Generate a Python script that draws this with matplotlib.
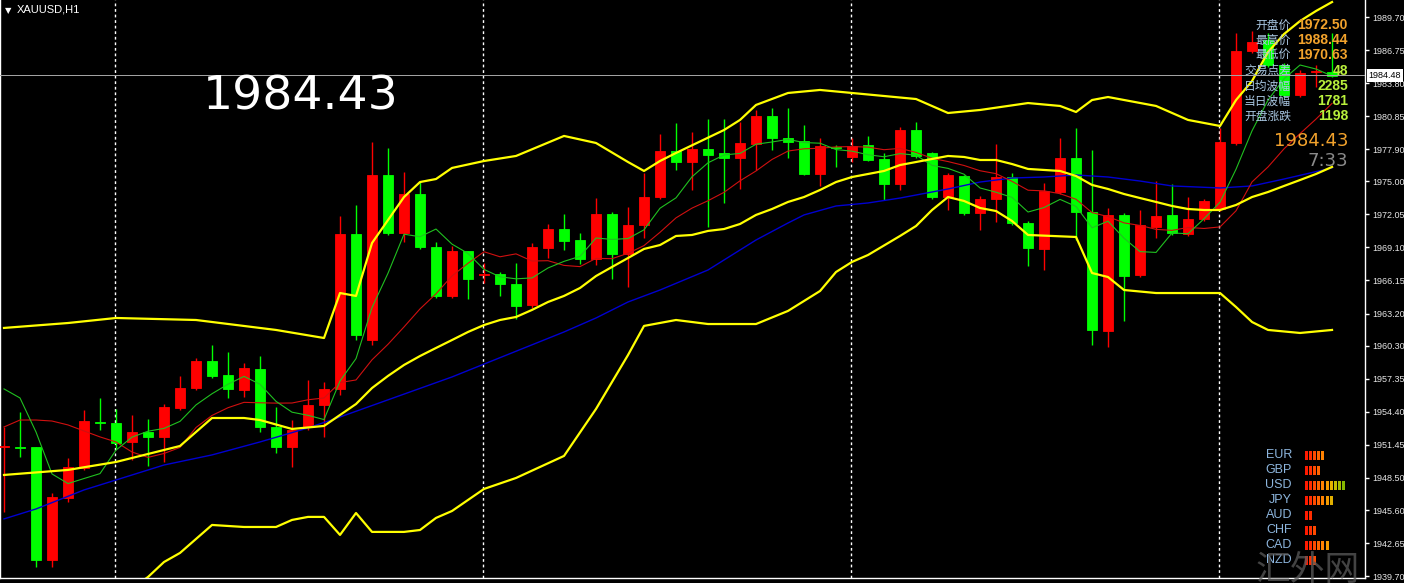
import matplotlib
matplotlib.use('Agg')
import matplotlib.pyplot as plt
import matplotlib.transforms as mtransforms
import numpy as np

# XAUUSD H1 candles (red = up, green = down)
opens = [1951.27, 1951.27, 1951.27, 1941.17, 1946.71, 1949.39, 1953.51, 1953.42, 1951.72, 1952.61,
         1952.17, 1954.76, 1956.54, 1958.96, 1957.71, 1956.37, 1958.24, 1953.06, 1951.27, 1953.06,
         1955.03, 1956.46, 1970.31, 1960.83, 1975.58, 1970.40, 1973.88, 1969.15, 1964.77, 1968.79,
         1966.64, 1966.73, 1965.84, 1963.96, 1969.06, 1970.75, 1969.77, 1968.07, 1972.09, 1968.52,
         1971.11, 1973.61, 1977.73, 1976.74, 1977.90, 1977.55, 1977.10, 1978.35, 1980.85, 1978.89,
         1978.62, 1975.67, 1978.08, 1977.19, 1978.26, 1977.01, 1974.78, 1979.60, 1977.55, 1973.61,
         1975.49, 1972.18, 1973.44, 1975.40, 1971.29, 1968.97, 1974.06, 1977.10, 1972.27, 1961.64,
         1972.01, 1966.64, 1970.93, 1972.01, 1970.31, 1971.65, 1972.54, 1978.44, 1986.66, 1987.65,
         1985.41, 1982.73, 1984.79, 1984.79]
highs = [1953.06, 1954.40, 1951.30, 1947.16, 1950.29, 1954.58, 1955.65, 1954.67, 1954.13, 1953.77,
         1955.11, 1957.62, 1959.23, 1960.39, 1959.76, 1958.78, 1959.40, 1954.85, 1953.68, 1957.26,
         1957.08, 1971.92, 1972.90, 1978.53, 1977.99, 1975.85, 1974.95, 1969.59, 1969.23, 1968.79,
         1967.72, 1966.91, 1967.72, 1969.50, 1971.20, 1972.09, 1970.40, 1973.52, 1972.27, 1972.72,
         1975.76, 1979.24, 1980.23, 1979.42, 1980.58, 1980.58, 1980.32, 1981.39, 1981.57, 1981.57,
         1980.05, 1978.89, 1978.26, 1978.89, 1979.07, 1977.55, 1979.87, 1980.32, 1977.60, 1975.76,
         1975.55, 1973.70, 1978.35, 1975.76, 1971.47, 1974.87, 1978.89, 1979.78, 1977.81, 1972.63,
         1972.18, 1972.45, 1975.04, 1974.78, 1973.61, 1973.44, 1979.78, 1988.27, 1988.44, 1988.27,
         1985.59, 1984.96, 1985.41, 1988.27]
lows = [1945.46, 1950.38, 1940.55, 1940.55, 1946.36, 1949.22, 1952.79, 1951.18, 1950.11, 1949.57,
        1949.93, 1954.58, 1956.37, 1957.44, 1955.65, 1955.74, 1952.61, 1950.74, 1949.48, 1952.79,
        1952.17, 1955.92, 1960.83, 1960.39, 1970.22, 1969.59, 1968.97, 1964.59, 1964.59, 1964.50,
        1965.93, 1964.77, 1962.71, 1963.69, 1968.16, 1968.88, 1967.63, 1967.54, 1966.29, 1965.57,
        1969.95, 1973.44, 1976.03, 1974.24, 1970.93, 1973.08, 1974.33, 1976.03, 1977.81, 1977.10,
        1975.58, 1974.60, 1976.30, 1976.74, 1976.80, 1973.35, 1974.24, 1977.10, 1973.44, 1972.45,
        1972.01, 1970.66, 1971.38, 1971.11, 1967.45, 1967.09, 1973.88, 1969.77, 1960.39, 1960.21,
        1962.53, 1966.46, 1969.95, 1970.22, 1970.13, 1971.47, 1972.36, 1978.26, 1986.48, 1985.23,
        1982.55, 1982.55, 1983.44, 1984.30]
closes = [1951.36, 1951.18, 1941.17, 1946.80, 1949.48, 1953.59, 1953.42, 1951.63, 1952.61, 1952.17,
          1954.85, 1956.54, 1958.96, 1957.62, 1956.46, 1958.33, 1953.06, 1951.27, 1952.79, 1955.03,
          1956.46, 1970.31, 1961.28, 1975.58, 1970.40, 1973.88, 1969.15, 1964.77, 1968.79, 1966.29,
          1966.73, 1965.84, 1963.87, 1969.15, 1970.75, 1969.68, 1968.07, 1972.09, 1968.52, 1971.11,
          1973.61, 1977.73, 1976.74, 1977.90, 1977.37, 1977.10, 1978.44, 1980.85, 1978.89, 1978.53,
          1975.67, 1978.17, 1977.99, 1978.17, 1976.92, 1974.78, 1979.60, 1977.28, 1973.61, 1975.58,
          1972.18, 1973.44, 1975.40, 1971.29, 1969.06, 1974.15, 1977.10, 1972.27, 1961.73, 1972.01,
          1966.55, 1971.11, 1971.92, 1970.40, 1971.65, 1973.26, 1978.53, 1986.66, 1987.47, 1985.41,
          1982.73, 1984.70, 1984.87, 1984.43]

# moving averages
ma_fast = [1956.46, 1955.65, 1952.61, 1948.86, 1948.00, 1948.45, 1948.89, 1950.99, 1952.15, 1952.68,
           1952.93, 1953.56, 1955.03, 1956.03, 1956.88, 1957.58, 1956.88, 1955.35, 1954.38, 1954.10,
           1953.72, 1957.17, 1959.17, 1963.73, 1966.80, 1970.29, 1970.06, 1970.75, 1969.40, 1968.57,
           1967.14, 1966.48, 1966.30, 1966.38, 1967.27, 1967.86, 1968.31, 1969.95, 1969.82, 1969.90,
           1970.68, 1972.61, 1973.54, 1975.42, 1976.67, 1977.37, 1977.51, 1978.33, 1978.53, 1978.76,
           1978.48, 1978.42, 1977.85, 1977.71, 1977.39, 1977.21, 1977.49, 1977.35, 1976.44, 1976.17,
           1975.65, 1974.42, 1974.04, 1973.58, 1972.27, 1972.67, 1973.40, 1972.77, 1970.86, 1971.45,
           1969.93, 1968.73, 1968.66, 1970.40, 1970.33, 1971.67, 1973.15, 1976.10, 1979.53, 1982.28,
           1984.18, 1985.41, 1985.05, 1984.43]
ma_slow = [1953.06, 1953.68, 1953.68, 1953.59, 1953.24, 1952.70, 1952.17, 1951.72, 1950.82, 1950.34,
           1950.69, 1951.23, 1953.01, 1954.09, 1954.78, 1955.26, 1955.22, 1955.19, 1955.20, 1955.49,
           1955.65, 1957.03, 1957.26, 1959.06, 1960.45, 1962.00, 1963.61, 1964.96, 1966.56, 1967.69,
           1968.72, 1968.27, 1968.53, 1967.89, 1967.92, 1967.50, 1967.39, 1968.13, 1968.10, 1968.58,
           1969.27, 1970.46, 1971.75, 1972.62, 1973.28, 1974.03, 1975.06, 1975.94, 1976.97, 1977.72,
           1977.92, 1977.97, 1978.09, 1978.12, 1978.07, 1977.84, 1977.96, 1977.60, 1977.07, 1976.78,
           1976.43, 1975.96, 1975.70, 1975.01, 1974.22, 1974.16, 1973.91, 1973.41, 1972.22, 1971.86,
           1971.30, 1971.07, 1970.72, 1970.63, 1970.89, 1970.80, 1970.94, 1972.38, 1974.96, 1976.30,
           1977.92, 1979.28, 1980.58, 1981.98]

blue_idx = [0, 2, 5, 7, 10, 13, 16, 19, 21, 28, 35, 37, 39, 41, 44, 47, 49, 50, 52, 54,
            56, 57, 59, 61, 63, 65, 67, 69, 71, 73, 76, 78, 80, 83]
blue_ma = [1944.84, 1945.73, 1947.43, 1948.32, 1949.66, 1950.56, 1951.72, 1952.97, 1953.95, 1957.53,
           1961.55, 1962.80, 1964.23, 1965.30, 1967.09, 1969.77, 1971.29, 1972.01, 1972.81, 1973.08,
           1973.52, 1973.79, 1974.33, 1974.95, 1975.31, 1975.40, 1975.58, 1975.40, 1975.04, 1974.60,
           1974.42, 1974.60, 1975.22, 1976.21]

# bollinger bands
bb_up_idx = [0, 4, 7, 12, 17, 20, 21, 22, 23, 25, 26, 27, 28, 30, 32, 35, 37, 39, 40, 41, 42,
             45, 46, 47, 49, 51, 53, 57, 59, 61, 64, 66, 67, 68, 69, 72, 74, 76, 77, 78, 79, 80,
             81, 82, 83]
bb_up = [1961.91, 1962.35, 1962.80, 1962.62, 1961.73, 1961.01, 1965.03, 1964.77, 1969.50, 1973.61,
         1974.95, 1975.22, 1976.21, 1976.83, 1977.28, 1979.07, 1978.44, 1976.74, 1975.94, 1976.83,
         1977.55, 1979.60, 1980.50, 1981.84, 1982.91, 1983.18, 1982.91, 1982.37, 1981.12, 1981.39,
         1982.01, 1981.75, 1981.21, 1982.28, 1982.55, 1981.75, 1980.50, 1979.96, 1982.28, 1983.98,
         1986.57, 1988.18, 1989.34, 1990.24, 1991.04]
bb_mid_idx = [0, 4, 7, 11, 13, 15, 16, 18, 20] + list(range(21, 84))
bb_mid = [1948.77, 1949.22, 1949.93, 1951.36, 1953.86, 1953.86, 1953.68, 1952.88, 1953.15,
          1954.13, 1955.11, 1956.54, 1957.62, 1958.60, 1959.40, 1960.12, 1960.83, 1961.55, 1962.17,
          1962.62, 1962.89, 1963.52, 1964.23, 1964.77, 1965.48, 1966.55, 1967.36, 1968.16, 1968.97,
          1969.32, 1970.13, 1970.22, 1970.58, 1970.75, 1971.20, 1972.01, 1972.54, 1973.17, 1973.61,
          1974.24, 1974.95, 1975.40, 1975.67, 1975.94, 1976.47, 1976.74, 1977.01, 1977.28, 1977.19,
          1976.92, 1976.92, 1976.56, 1976.12, 1976.03, 1975.94, 1975.49, 1974.69, 1974.33, 1973.88,
          1973.52, 1973.17, 1972.81, 1972.54, 1972.45, 1972.45, 1972.90, 1973.61, 1974.06, 1974.60,
          1975.13, 1975.67, 1976.30]
bb_low_idx = [7, 9, 10, 11, 13, 15, 17, 18, 19, 20, 21, 22, 23, 25, 26, 27, 28, 30, 32, 35,
              37, 39, 40, 42, 44, 47, 49, 51, 52, 53, 54, 56, 57, 58, 59, 60, 61, 62, 63, 64,
              67, 68, 69, 70, 72, 76, 77, 78, 79, 81, 83]
bb_low = [1937.60, 1939.65, 1940.99, 1941.80, 1944.30, 1944.12, 1944.12, 1944.75, 1945.02, 1945.02,
          1943.41, 1945.37, 1943.68, 1943.68, 1943.85, 1944.93, 1945.55, 1947.52, 1948.50, 1950.47,
          1954.67, 1959.49, 1962.09, 1962.62, 1962.26, 1962.26, 1963.43, 1965.21, 1966.91, 1967.81,
          1968.43, 1970.13, 1971.02, 1972.45, 1973.61, 1973.26, 1972.63, 1972.36, 1971.47, 1970.22,
          1970.04, 1966.82, 1966.46, 1965.30, 1965.03, 1965.03, 1963.78, 1962.44, 1961.73, 1961.46,
          1961.73]

day_starts = [7, 30, 53, 76]
bid_price = 1984.48
last_price = '1984.43'
yticks = [1989.70, 1986.75, 1983.80, 1980.85, 1977.90, 1975.00, 1972.05, 1969.10, 1966.15,
          1963.20, 1960.30, 1957.35, 1954.40, 1951.45, 1948.50, 1945.60, 1942.65, 1939.70]

info_labels = ['开盘价', '最高价', '最低价', '交易点差', '日均波幅', '当日波幅', '开盘涨跌']
info_values = ['1972.50', '1988.44', '1970.63', '48', '2285', '1781', '1198']
countdown = '7:33'

currencies = ['EUR', 'GBP', 'USD', 'JPY', 'AUD', 'CHF', 'CAD', 'NZD']
strength = [5, 4, 10, 7, 2, 3, 6, 3]
bar_colors = ['#FF1A00', '#FF2E00', '#FF4A00', '#FF6400', '#FF8200', '#F39A00',
              '#E2B000', '#C2BC00', '#A4BC00', '#86B800']

W, H = 1404, 583


def fpos(px, py):
    return px / W, 1 - py / H


fig = plt.figure(figsize=(W / 100, H / 100), dpi=100, facecolor='black')
ax = fig.add_axes([0, 5 / H, 1365 / W, 578 / H], facecolor='black')

x = np.arange(len(opens))
o = np.array(opens)
c = np.array(closes)
col = np.where(c >= o, '#FF0000', '#00FF00')
ax.vlines(x, lows, highs, colors=col, lw=1, zorder=2)
ax.bar(x, np.abs(c - o), bottom=np.minimum(o, c), width=0.66, color=col,
       edgecolor=col, lw=0.6, zorder=3)

ax.plot(bb_up_idx, bb_up, color='#FFFF00', lw=1.6, zorder=5)
ax.plot(bb_mid_idx, bb_mid, color='#FFFF00', lw=1.6, zorder=5)
ax.plot(bb_low_idx, bb_low, color='#FFFF00', lw=1.6, zorder=5)
ax.plot(blue_idx, blue_ma, color='#0000D0', lw=1, zorder=4)
ax.plot(x, ma_slow, color='#D01010', lw=0.8, zorder=4)
ax.plot(x, ma_fast, color='#20C020', lw=0.8, zorder=4)

for d in day_starts:
    ax.axvline(d - 0.06, color='white', lw=1, ls=(0, (2, 2)), zorder=1)
ax.axhline(bid_price, color='#A8A8A8', lw=0.7, zorder=6)

ax.set_xlim(-0.25, 85.06)
ax.set_ylim(1939.56, 1991.22)
ax.set_xticks([])
ax.yaxis.tick_right()
ax.set_yticks(yticks)
ax.set_yticklabels(['%.2f' % v for v in yticks])
ax.tick_params(axis='y', colors='white', length=3, width=1, pad=2, labelsize=6.5,
               labelcolor='#E6E6E6')
for t in ax.get_yticklabels():
    t.set_family('Liberation Sans')
for s in ['left', 'right', 'bottom']:
    ax.spines[s].set_color('white')
    ax.spines[s].set_linewidth(1)
ax.spines['top'].set_visible(False)

trans = mtransforms.blended_transform_factory(ax.transAxes, ax.transData)
ax.text(1.0025, bid_price, '1984.48', transform=trans, ha='left', va='center',
        fontsize=6.5, family='Liberation Sans', color='black', clip_on=False, zorder=10,
        bbox=dict(facecolor='white', edgecolor='none', pad=1.2))

# texts on top of the chart
fig.text(*fpos(5, 13), '▼', fontsize=6, color='white', va='baseline')
fig.text(*fpos(17, 13), 'XAUUSD,H1', fontsize=8, family='Liberation Sans', color='white',
         va='baseline')
fig.text(*fpos(203, 110), last_price, fontsize=34, color='white', va='baseline')

for k, (lab, val) in enumerate(zip(info_labels, info_values)):
    yc = 25 + 15.2 * k
    fig.text(*fpos(1291, yc), lab, fontsize=8.5, family=['Noto Sans CJK SC', 'DejaVu Sans'],
             color='#A9C7E2', ha='right', va='center')
    fig.text(*fpos(1348, yc), val, fontsize=10, family='Liberation Sans', weight='bold',
             color='#F2A22C' if k < 3 else '#B9F03C', ha='right', va='center')
fig.text(*fpos(1348, 141), last_price, fontsize=13, color='#F2A22C', ha='right', va='center')
fig.text(*fpos(1348, 161), countdown, fontsize=13, color='#8A8A8A', ha='right', va='center')

for k, cur in enumerate(currencies):
    fig.text(*fpos(1292, 455 + 15 * k), cur, fontsize=9, family='Liberation Sans',
             color='#8DB6DE', ha='right', va='center')

ax2 = fig.add_axes([1304 / W, 1 - 567.5 / H, 46 / W, 120 / H])
ax2.set_axis_off()
for r, n in enumerate(strength):
    ax2.bar(np.arange(n), 0.6, bottom=r - 0.3, width=0.68, color=bar_colors[:n])
ax2.set_xlim(-0.5, 10.45)
ax2.set_ylim(7.5, -0.5)

fig.text(*fpos(1256, 580), '汇外网', fontsize=25, family=['Noto Sans CJK SC'],
         color='#5A5A5A', alpha=0.75, va='baseline')

fig.savefig('out.png', dpi=100, facecolor='black')
